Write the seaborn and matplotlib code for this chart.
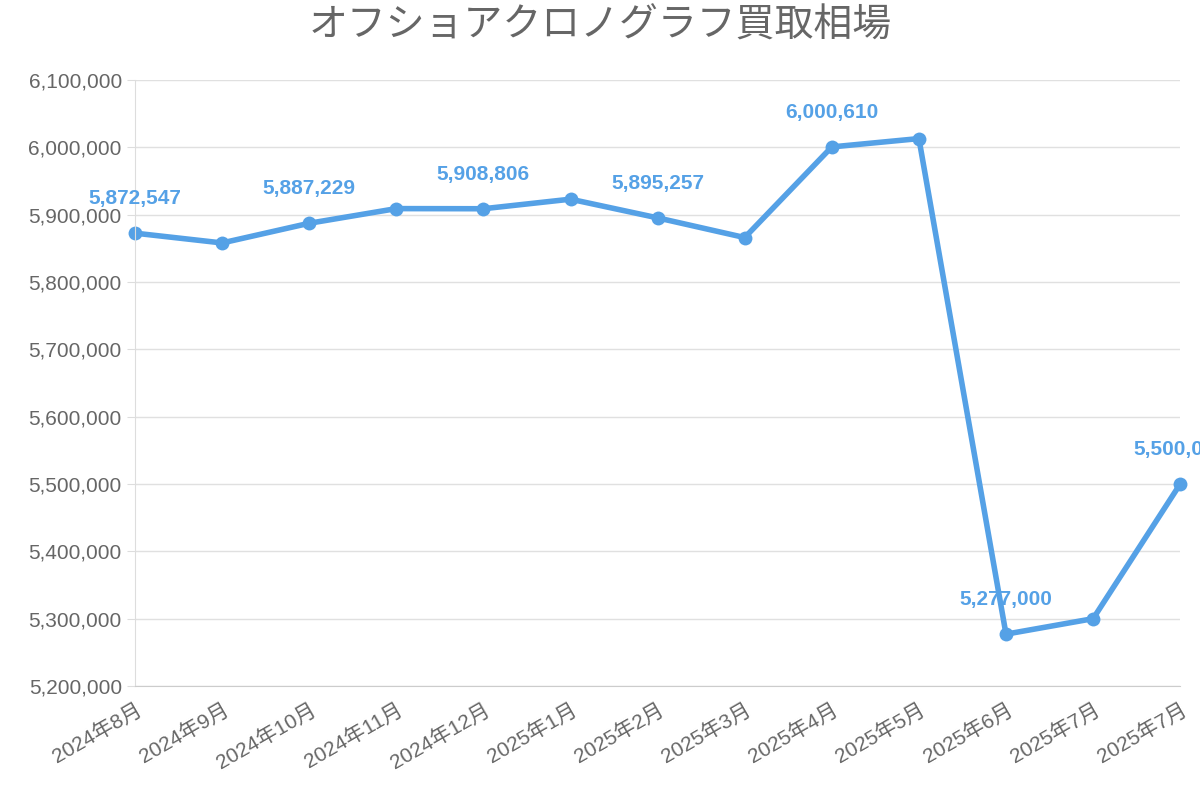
import matplotlib
matplotlib.use("Agg")
import matplotlib.pyplot as plt
import seaborn as sns
import pandas as pd

months = ["2024年8月","2024年9月","2024年10月","2024年11月","2024年12月","2025年1月",
          "2025年2月","2025年3月","2025年4月","2025年5月","2025年6月","2025年7月","2025年7月"]
prices = [5872547, 5858000, 5887229, 5909000, 5908806, 5923000, 5895257,
          5866000, 6000610, 6013000, 5277000, 5300000, 5500000]
labeled = [0, 2, 4, 6, 8, 10, 12]

plt.rcParams["font.family"] = ["Liberation Sans", "Noto Sans CJK JP", "DejaVu Sans"]
df = pd.DataFrame({"i": range(len(months)), "price": prices})
color = "#55a1e6"

fig = plt.figure(figsize=(12, 8), dpi=100)
ax = fig.add_axes([0.1125, 0.1425, 0.871, 0.7575])
sns.lineplot(data=df, x="i", y="price", ax=ax, color=color, linewidth=4,
             marker="o", markersize=10, markeredgewidth=0, clip_on=False)
ax.set_xlim(0, 12)
ax.set_ylim(5200000, 6100000)
ax.set_yticks(range(5200000, 6100001, 100000))
ax.set_yticklabels([f"{v:,}" for v in range(5200000, 6100001, 100000)])
ax.set_xticks(range(len(months)))
ax.set_xticklabels(months, rotation=30, ha="right", rotation_mode="anchor")
ax.tick_params(axis="both", labelsize=15, colors="#666666", length=6, color="#dddddd")
ax.tick_params(axis="x", length=0, pad=10)
ax.grid(axis="y", color="#e0e0e0", linewidth=1)
ax.set_axisbelow(True)
for s in ["top", "right"]:
    ax.spines[s].set_visible(False)
ax.spines["left"].set_color("#dddddd")
ax.spines["bottom"].set_color("#cccccc")
ax.set_xlabel(""); ax.set_ylabel("")
for i in labeled:
    ax.annotate(f"{prices[i]:,}", (i, prices[i]), xytext=(0, 18), textcoords="offset points",
                ha="center", va="bottom", fontsize=15, fontweight="bold", color=color)
fig.suptitle("オフショアクロノグラフ買取相場", y=0.99, fontsize=28, color="#666666")
fig.savefig("out.png")
